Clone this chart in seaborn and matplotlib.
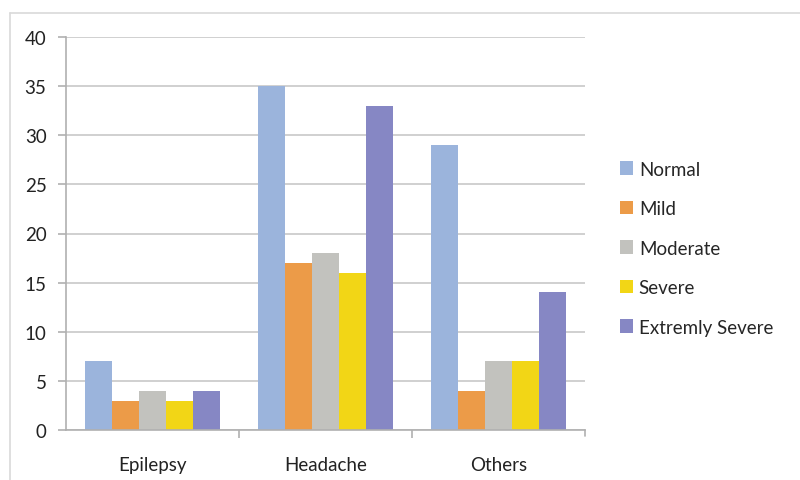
import matplotlib
matplotlib.use("Agg")
import matplotlib.pyplot as plt
import seaborn as sns
import pandas as pd
from matplotlib.lines import Line2D

categories = ["Epilepsy", "Headache", "Others"]
series = ["Normal", "Mild", "Moderate", "Severe", "Extremly Severe"]
normal = [7, 35, 29]
mild = [3, 17, 4]
moderate = [4, 18, 7]
severe = [3, 16, 7]
extreme = [4, 33, 14]
colors = ["#9BB4DC", "#EC9B48", "#C2C2BE", "#F2D616", "#8687C4"]

rows = []
for name, vals in zip(series, [normal, mild, moderate, severe, extreme]):
    for c, v in zip(categories, vals):
        rows.append({"cat": c, "series": name, "value": v})
df = pd.DataFrame(rows)

sns.set_theme(style="white")
plt.rcParams["font.family"] = ["Lato", "DejaVu Sans"]

fig = plt.figure(figsize=(8, 4.81), dpi=100)
ax = fig.add_axes([66/800, 1-431/481, (585-66)/800, (431-38)/481])
sns.barplot(data=df, x="cat", y="value", hue="series", palette=colors,
            order=categories, hue_order=series, width=0.775, saturation=1,
            ax=ax, edgecolor="none", linewidth=0)

ax.set_ylim(0, 40)
ax.set_xlim(-0.5, 2.5)
ax.set_yticks(range(0, 41, 5))
ax.yaxis.grid(True, color="#C8C8C8", linewidth=1.2)
ax.set_axisbelow(True)
ax.set_xlabel("")
ax.set_ylabel("")
for s in ["top", "right"]:
    ax.spines[s].set_visible(False)
for s in ["left", "bottom"]:
    ax.spines[s].set_color("#B0B0B0")
    ax.spines[s].set_linewidth(1.2)
ax.tick_params(axis="y", labelsize=13.5, colors="#222222", length=6, width=1.2,
               color="#B0B0B0", left=True, pad=8)
ax.tick_params(axis="x", labelsize=13.5, colors="#222222", length=0, pad=19)
ax.set_xticks([0.5, 1.5], minor=True)
ax.tick_params(axis="x", which="minor", length=6, width=1.2, color="#B0B0B0", bottom=True)
ax.plot([2.5, 2.5], [0, -0.6], color="#B0B0B0", lw=1.2, clip_on=False)

leg = ax.legend(loc="center left", bbox_to_anchor=(1.035, 0.463), frameon=False,
                fontsize=13.5, labelspacing=1.2, handlelength=0.7, handleheight=0.7,
                handletextpad=0.3)

fig.add_artist(Line2D([10/800, 1], [1-14/481, 1-14/481], color="#D9D9D9", lw=1.2))
fig.add_artist(Line2D([10/800, 10/800], [0, 1-14/481], color="#D9D9D9", lw=1.2))

fig.savefig("out.png", dpi=100, facecolor="white")
